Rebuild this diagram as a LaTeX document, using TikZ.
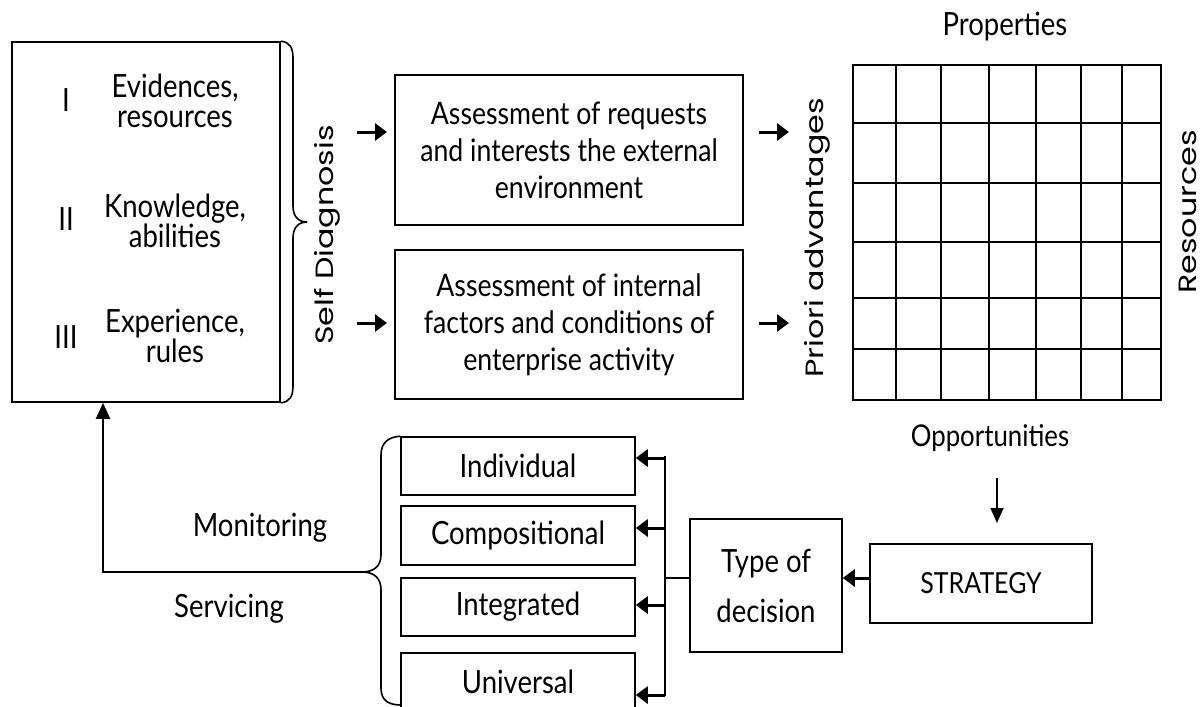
\documentclass[tikz,border=0pt]{standalone}
\usepackage{fontspec}
\setmainfont{Lato}[FakeStretch=0.86]
\newfontfamily\geofont{Poppins}[FakeStretch=1.27]
\usetikzlibrary{arrows.meta}
\begin{document}
\begin{tikzpicture}[x=1pt,y=-1pt,
  bx/.style={draw, line width=1.6pt, inner sep=0pt, align=center},
  lbl/.style={inner sep=0pt, align=center, font=\fontsize{32}{30}\selectfont},
  abox/.style={bx, font=\fontsize{31}{37}\selectfont},
  sbox/.style={bx, font=\fontsize{32}{32}\selectfont},
  vlbl/.style={rotate=90, inner sep=0pt, font=\geofont\fontsize{25}{25}\selectfont},
  thickarr/.style={line width=3pt, -{Triangle[length=12pt,width=17pt]}},
  thinarr/.style={line width=1.6pt, -{Triangle[length=15pt,width=13pt]}},
  wire/.style={line width=1.6pt},
]
\useasboundingbox (0,0) rectangle (1203,707);

% ---------- left box ----------
\node[bx, minimum width=268pt, minimum height=360pt] (L) at (146,222) {};
\node[lbl] (r1) at (66,100) {I};
\node[lbl] (t1) at (175,101) {Evidences,\\resources};
\node[lbl] (r2) at (66,219) {II};
\node[lbl] (t2) at (175,221) {Knowledge,\\abilities};
\node[lbl] (r3) at (66,337) {III};
\node[lbl] (t3) at (175,336) {Experience,\\rules};

% top brace
\coordinate (bt) at (307,222);
\draw[wire] (L.north east) .. controls (290,42) and (293,48) .. (293,58)
  -- (293,206) .. controls (293,216) and (298,222) .. (bt)
  .. controls (298,222) and (293,228) .. (293,238)
  -- (293,386) .. controls (293,396) and (290,402) .. (L.south east);

\node[vlbl] (sd) at (327,235) {Self Diagnosis};

% ---------- assessment boxes ----------
\node[abox, minimum width=348pt, minimum height=150pt] (A1) at (569,150)
  {Assessment of requests\\and interests the external\\environment};
\node[abox, minimum width=348pt, minimum height=149pt] (A2) at (569,324.5)
  {Assessment of internal\\factors and conditions of\\enterprise activity};

\coordinate (la1) at (357,132); \coordinate (la1e) at (387,132);
\coordinate (la2) at (357,323); \coordinate (la2e) at (387,323);
\coordinate (ra1) at (759,132); \coordinate (ra1e) at (789,132);
\coordinate (ra2) at (759,323); \coordinate (ra2e) at (789,323);
\draw[thickarr] (la1) -- (la1e);
\draw[thickarr] (la2) -- (la2e);
\draw[thickarr] (ra1) -- (ra1e);
\draw[thickarr] (ra2) -- (ra2e);

\node[vlbl] (pa) at (817,238) {Priori advantages};

% ---------- grid ----------
\node[bx, minimum width=308pt, minimum height=335pt] (grid) at (1007,232.5) {};
\foreach \x in {896,941,989,1036,1081,1122} \draw[wire] (\x,65) -- (\x,400);
\foreach \y in {123,183,242,298,349} \draw[wire] (853,\y) -- (1161,\y);

\node[lbl] (prop) at (1005,27) {Properties};
\node[vlbl] (res) at (1188,212) {Resources};
\node[lbl, font=\fontsize{30}{30}\selectfont] (opp) at (990,438) {Opportunities};

% ---------- strategy / decision ----------
\node[sbox, minimum width=222pt, minimum height=79pt, font=\fontsize{29}{29}\selectfont] (strat) at (981,583.5) {STRATEGY};
\node[sbox, minimum width=152pt, minimum height=133pt, font=\fontsize{32}{50}\selectfont] (type) at (766,585.5) {Type of\\decision};

\coordinate (oa) at (997,478); \coordinate (oae) at (997,523);
\draw[thinarr] (oa) -- (oae);
\draw[thickarr] ([yshift=5.5pt]strat.west) -- ([yshift=7.5pt]type.east);

% ---------- decision types ----------
\node[sbox, minimum width=234pt, minimum height=58pt] (ind) at (518,466) {Individual};
\node[sbox, minimum width=234pt, minimum height=59pt] (comp) at (518,535.5) {Compositional};
\node[sbox, minimum width=234pt, minimum height=58pt] (integ) at (518,607) {Integrated};
\node[sbox, minimum width=234pt, minimum height=58pt] (univ) at (518,682) {Universal};

\coordinate (bus1) at (665,458);
\coordinate (bus2) at (665,528);
\coordinate (bus3) at (665,605);
\coordinate (bus4) at (665,695);
\coordinate (busm) at (665,578);
\draw[line width=2pt] (665,456) -- (665,696);
\draw[line width=1.3pt] ([yshift=7.5pt]type.west) -- (busm);
\draw[thickarr] (bus1) -- (bus1 -| ind.east);
\draw[thickarr] (bus2) -- (bus2 -| comp.east);
\draw[thickarr] (bus3) -- (bus3 -| integ.east);
\draw[thickarr] (bus4) -- (bus4 -| univ.east);

% bottom brace
\coordinate (bb) at (362,572);
\draw[wire] (ind.north west) .. controls (388,437) and (381,443) .. (381,455)
  -- (381,555) .. controls (381,566) and (374,572) .. (bb)
  .. controls (374,572) and (381,578) .. (381,590)
  -- (381,688) .. controls (381,700) and (388,705) .. (401,705);

\node[lbl] (mon) at (260,528) {Monitoring};
\node[lbl] (serv) at (229,609) {Servicing};

% feedback
\coordinate (fb) at (103,572);
\draw[line width=2pt, -{Triangle[length=16pt,width=14pt]}] (bb) -- (fb) -- (fb |- L.south);
\end{tikzpicture}
\end{document}
